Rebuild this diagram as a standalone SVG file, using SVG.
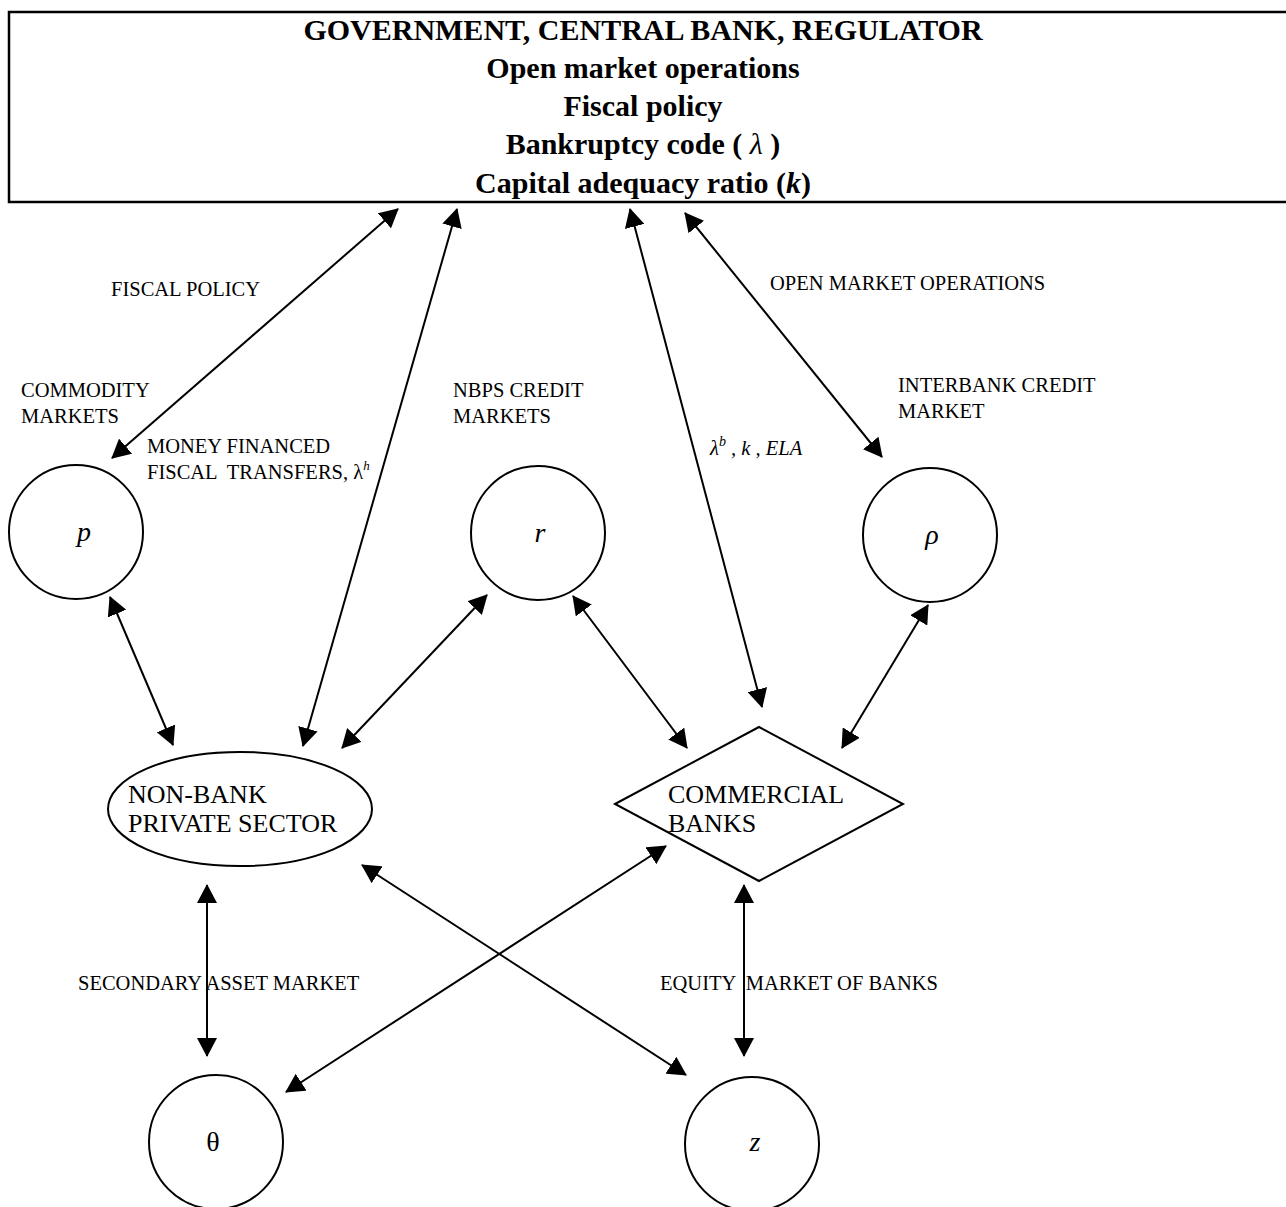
<svg xmlns="http://www.w3.org/2000/svg" width="1286" height="1207" viewBox="0 0 1286 1207">
<style>
.hd{font-family:"Liberation Serif","Times New Roman",serif;font-weight:bold;font-size:30px;text-anchor:middle;fill:#000}
.lb{font-family:"Liberation Serif","Times New Roman",serif;font-size:20.5px;fill:#000}
.nd{font-family:"Liberation Serif","Times New Roman",serif;font-size:26px;fill:#000}
.sy{font-family:"Liberation Serif","Times New Roman",serif;font-size:28px;font-style:italic;text-anchor:middle;fill:#000}
.up{font-style:normal}
.sh{fill:#fff;stroke:#000;stroke-width:2}
.cn line{stroke:#000;stroke-width:2;marker-start:url(#ah);marker-end:url(#ah)}
</style>
<defs>
<marker id="ah" markerUnits="userSpaceOnUse" markerWidth="20" markerHeight="20" refX="18" refY="10" orient="auto-start-reverse" viewBox="0 0 20 20">
<path d="M0,0 L19,10 L0,20 Z" fill="#000"/>
</marker>
</defs>
<rect width="1286" height="1207" fill="#fff"/>
<g id="government">
<rect x="9" y="12" width="1290" height="190" fill="#fff" stroke="#000" stroke-width="2.5"/>
<text class="hd" x="643" y="40">GOVERNMENT, CENTRAL BANK, REGULATOR</text>
<text class="hd" x="643" y="78">Open market operations</text>
<text class="hd" x="643" y="116">Fiscal policy</text>
<text class="hd" x="643" y="154">Bankruptcy code ( <tspan font-style="italic" font-weight="normal">λ</tspan> )</text>
<text class="hd" x="643" y="193">Capital adequacy ratio (<tspan font-style="italic">k</tspan>)</text>
</g>
<g id="node-p"><circle class="sh" cx="76" cy="532" r="67"/><text class="sy" x="84" y="541">p</text></g>
<g id="node-r"><circle class="sh" cx="538" cy="533" r="67"/><text class="sy" x="540" y="542">r</text></g>
<g id="node-rho"><circle class="sh" cx="930" cy="535" r="67"/><text class="sy" x="932" y="544">ρ</text></g>
<g id="node-nbps"><ellipse class="sh" cx="240" cy="809" rx="132" ry="57"/><text class="nd" x="128" y="803">NON-BANK</text><text class="nd" x="128" y="832">PRIVATE SECTOR</text></g>
<g id="node-banks"><polygon class="sh" points="615,804 759,727 903,804 759,881"/><text class="nd" x="668" y="803">COMMERCIAL</text><text class="nd" x="668" y="832">BANKS</text></g>
<g id="node-theta"><circle class="sh" cx="216" cy="1142" r="67"/><text class="sy up" x="213" y="1151">θ</text></g>
<g id="node-z"><circle class="sh" cx="752" cy="1144" r="67"/><text class="sy" x="755" y="1151">z</text></g>
<g id="connectors" class="cn">
<line x1="398" y1="209" x2="112" y2="458"/>
<line x1="457" y1="209" x2="303" y2="746"/>
<line x1="630" y1="209" x2="762" y2="707"/>
<line x1="685" y1="213" x2="882" y2="457"/>
<line x1="110" y1="597" x2="173" y2="745"/>
<line x1="487" y1="595" x2="342" y2="748"/>
<line x1="573" y1="596" x2="687" y2="748"/>
<line x1="928" y1="605" x2="842" y2="748"/>
<line x1="207" y1="885" x2="207" y2="1056"/>
<line x1="744" y1="885" x2="744" y2="1056"/>
<line x1="362" y1="865" x2="686" y2="1075"/>
<line x1="666" y1="846" x2="286" y2="1092"/>
</g>
<g id="labels">
<text class="lb" x="111" y="296">FISCAL POLICY</text>
<text class="lb" x="770" y="290">OPEN MARKET OPERATIONS</text>
<text class="lb" x="21" y="397">COMMODITY</text>
<text class="lb" x="21" y="423">MARKETS</text>
<text class="lb" x="453" y="397">NBPS CREDIT</text>
<text class="lb" x="453" y="423">MARKETS</text>
<text class="lb" x="898" y="392">INTERBANK CREDIT</text>
<text class="lb" x="898" y="418">MARKET</text>
<text class="lb" x="147" y="453">MONEY FINANCED</text>
<text class="lb" x="147" y="479" xml:space="preserve">FISCAL  TRANSFERS, λ<tspan font-style="italic" font-size="13" dy="-9">h</tspan></text>
<text class="lb" x="710" y="455" font-style="italic">λ<tspan font-size="14" dy="-9">b</tspan><tspan dy="9" xml:space="preserve"> , k , ELA</tspan></text>
<text class="lb" x="78" y="990">SECONDARY ASSET MARKET</text>
<text class="lb" x="660" y="990" xml:space="preserve">EQUITY  MARKET OF BANKS</text>
</g>
</svg>
